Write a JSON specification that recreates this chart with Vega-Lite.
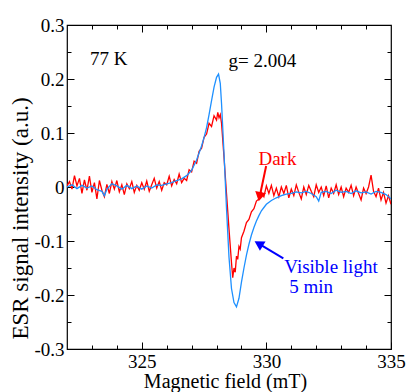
{
  "$schema": "https://vega.github.io/schema/vega-lite/v6.json",
  "width": 324,
  "height": 324,
  "autosize": {"type": "none"},
  "padding": {"left": 67, "top": 25, "right": 15, "bottom": 43},
  "background": "white",
  "config": {
    "view": {"stroke": "black", "strokeWidth": 1.2},
    "font": "Liberation Serif",
    "axis": {
      "domain": false, "grid": false, "tickColor": "black", "tickWidth": 1,
      "labelFont": "'Liberation Serif', 'Times New Roman', serif", "labelFontSize": 19, "labelColor": "black",
      "titleFont": "'Liberation Serif', 'Times New Roman', serif", "titleFontWeight": "normal", "titleColor": "black",
      "labelFlush": false, "labelOverlap": false, "labelBound": false
    }
  },
  "datasets": {
    "red": [
      {"B": 322.0, "I": 0.002}, {"B": 322.1, "I": 0.010}, {"B": 322.2, "I": -0.004}, {"B": 322.3, "I": 0.021},
      {"B": 322.4, "I": 0.002}, {"B": 322.5, "I": 0.016}, {"B": 322.6, "I": -0.012}, {"B": 322.7, "I": 0.013},
      {"B": 322.8, "I": -0.006}, {"B": 322.9, "I": 0.020}, {"B": 323.0, "I": -0.010}, {"B": 323.1, "I": 0.008},
      {"B": 323.2, "I": -0.022}, {"B": 323.3, "I": 0.012}, {"B": 323.4, "I": -0.006}, {"B": 323.5, "I": -0.018},
      {"B": 323.6, "I": 0.005}, {"B": 323.7, "I": -0.012}, {"B": 323.8, "I": 0.010}, {"B": 323.9, "I": -0.004},
      {"B": 324.0, "I": 0.012}, {"B": 324.1, "I": -0.009}, {"B": 324.2, "I": 0.004}, {"B": 324.3, "I": -0.014},
      {"B": 324.4, "I": 0.006}, {"B": 324.5, "I": -0.003}, {"B": 324.6, "I": 0.010}, {"B": 324.7, "I": -0.010},
      {"B": 324.8, "I": 0.003}, {"B": 324.9, "I": -0.006}, {"B": 325.0, "I": 0.008}, {"B": 325.1, "I": -0.004},
      {"B": 325.2, "I": 0.011}, {"B": 325.3, "I": -0.008}, {"B": 325.4, "I": 0.004}, {"B": 325.5, "I": 0.016},
      {"B": 325.6, "I": -0.002}, {"B": 325.7, "I": 0.010}, {"B": 325.8, "I": -0.006}, {"B": 325.9, "I": 0.008},
      {"B": 326.0, "I": 0.004}, {"B": 326.1, "I": 0.020}, {"B": 326.2, "I": 0.002}, {"B": 326.3, "I": 0.014},
      {"B": 326.4, "I": 0.006}, {"B": 326.5, "I": 0.024}, {"B": 326.6, "I": 0.008}, {"B": 326.7, "I": 0.016},
      {"B": 326.8, "I": 0.012}, {"B": 326.9, "I": 0.032}, {"B": 327.0, "I": 0.028}, {"B": 327.1, "I": 0.048},
      {"B": 327.2, "I": 0.044}, {"B": 327.3, "I": 0.066}, {"B": 327.4, "I": 0.072}, {"B": 327.5, "I": 0.092},
      {"B": 327.6, "I": 0.098}, {"B": 327.7, "I": 0.118}, {"B": 327.8, "I": 0.112}, {"B": 327.9, "I": 0.132},
      {"B": 328.0, "I": 0.124}, {"B": 328.05, "I": 0.138}, {"B": 328.1, "I": 0.128}, {"B": 328.15, "I": 0.134},
      {"B": 328.2, "I": 0.118}, {"B": 328.3, "I": 0.055}, {"B": 328.4, "I": -0.012}, {"B": 328.5, "I": -0.078},
      {"B": 328.6, "I": -0.140}, {"B": 328.65, "I": -0.168}, {"B": 328.7, "I": -0.150}, {"B": 328.75, "I": -0.158},
      {"B": 328.8, "I": -0.128}, {"B": 328.85, "I": -0.134}, {"B": 328.9, "I": -0.110}, {"B": 328.95, "I": -0.115},
      {"B": 329.0, "I": -0.094}, {"B": 329.1, "I": -0.082}, {"B": 329.2, "I": -0.066}, {"B": 329.3, "I": -0.060},
      {"B": 329.4, "I": -0.046}, {"B": 329.5, "I": -0.040}, {"B": 329.6, "I": -0.026}, {"B": 329.7, "I": -0.022},
      {"B": 329.8, "I": -0.010}, {"B": 329.9, "I": -0.018}, {"B": 330.0, "I": 0.002}, {"B": 330.1, "I": -0.012},
      {"B": 330.2, "I": 0.003}, {"B": 330.3, "I": -0.016}, {"B": 330.4, "I": -0.002}, {"B": 330.5, "I": -0.018},
      {"B": 330.6, "I": 0.000}, {"B": 330.7, "I": -0.012}, {"B": 330.8, "I": 0.003}, {"B": 330.9, "I": -0.020},
      {"B": 331.0, "I": -0.004}, {"B": 331.1, "I": -0.016}, {"B": 331.2, "I": 0.004}, {"B": 331.3, "I": -0.010},
      {"B": 331.4, "I": -0.022}, {"B": 331.5, "I": 0.000}, {"B": 331.6, "I": -0.014}, {"B": 331.7, "I": 0.003},
      {"B": 331.8, "I": -0.008}, {"B": 331.9, "I": -0.018}, {"B": 332.0, "I": 0.004}, {"B": 332.1, "I": -0.010},
      {"B": 332.2, "I": 0.000}, {"B": 332.3, "I": -0.016}, {"B": 332.4, "I": 0.002}, {"B": 332.5, "I": -0.020},
      {"B": 332.6, "I": -0.002}, {"B": 332.7, "I": -0.012}, {"B": 332.8, "I": 0.004}, {"B": 332.9, "I": -0.014},
      {"B": 333.0, "I": 0.000}, {"B": 333.1, "I": -0.018}, {"B": 333.2, "I": -0.002}, {"B": 333.3, "I": -0.010},
      {"B": 333.4, "I": 0.003}, {"B": 333.5, "I": -0.016}, {"B": 333.6, "I": 0.000}, {"B": 333.7, "I": -0.012},
      {"B": 333.8, "I": -0.024}, {"B": 333.9, "I": -0.002}, {"B": 334.0, "I": -0.012}, {"B": 334.1, "I": 0.000},
      {"B": 334.2, "I": 0.022}, {"B": 334.3, "I": -0.008}, {"B": 334.4, "I": -0.018}, {"B": 334.5, "I": -0.002},
      {"B": 334.6, "I": -0.024}, {"B": 334.7, "I": -0.010}, {"B": 334.8, "I": -0.030}, {"B": 334.9, "I": -0.016},
      {"B": 335.0, "I": -0.032}
    ],
    "blue": [
      {"B": 322.0, "I": 0.000}, {"B": 322.2, "I": 0.004}, {"B": 322.4, "I": -0.003}, {"B": 322.6, "I": 0.003},
      {"B": 322.8, "I": -0.002}, {"B": 323.0, "I": 0.002}, {"B": 323.2, "I": -0.005}, {"B": 323.4, "I": -0.008},
      {"B": 323.5, "I": -0.016}, {"B": 323.6, "I": -0.004}, {"B": 323.8, "I": 0.006}, {"B": 324.0, "I": 0.002},
      {"B": 324.2, "I": -0.004}, {"B": 324.4, "I": 0.003}, {"B": 324.6, "I": -0.003}, {"B": 324.8, "I": 0.002},
      {"B": 325.0, "I": -0.004}, {"B": 325.2, "I": 0.002}, {"B": 325.4, "I": -0.002}, {"B": 325.6, "I": 0.004},
      {"B": 325.8, "I": 0.003}, {"B": 326.0, "I": 0.006}, {"B": 326.2, "I": 0.008}, {"B": 326.4, "I": 0.012},
      {"B": 326.6, "I": 0.015}, {"B": 326.8, "I": 0.021}, {"B": 327.0, "I": 0.031}, {"B": 327.2, "I": 0.050},
      {"B": 327.4, "I": 0.076}, {"B": 327.5, "I": 0.092}, {"B": 327.6, "I": 0.110}, {"B": 327.7, "I": 0.134},
      {"B": 327.8, "I": 0.160}, {"B": 327.9, "I": 0.185}, {"B": 328.0, "I": 0.203}, {"B": 328.08, "I": 0.209},
      {"B": 328.15, "I": 0.192}, {"B": 328.2, "I": 0.155}, {"B": 328.3, "I": 0.062}, {"B": 328.4, "I": -0.040},
      {"B": 328.5, "I": -0.130}, {"B": 328.6, "I": -0.188}, {"B": 328.7, "I": -0.214}, {"B": 328.8, "I": -0.222},
      {"B": 328.9, "I": -0.206}, {"B": 329.0, "I": -0.176}, {"B": 329.1, "I": -0.150}, {"B": 329.2, "I": -0.126},
      {"B": 329.3, "I": -0.106}, {"B": 329.4, "I": -0.089}, {"B": 329.5, "I": -0.075}, {"B": 329.6, "I": -0.063},
      {"B": 329.7, "I": -0.053}, {"B": 329.8, "I": -0.044}, {"B": 329.9, "I": -0.038}, {"B": 330.0, "I": -0.032},
      {"B": 330.2, "I": -0.025}, {"B": 330.4, "I": -0.020}, {"B": 330.6, "I": -0.016}, {"B": 330.8, "I": -0.013},
      {"B": 331.0, "I": -0.012}, {"B": 331.2, "I": -0.009}, {"B": 331.4, "I": -0.011}, {"B": 331.6, "I": -0.008},
      {"B": 331.8, "I": -0.012}, {"B": 332.0, "I": -0.018}, {"B": 332.1, "I": -0.026}, {"B": 332.2, "I": -0.010},
      {"B": 332.4, "I": -0.008}, {"B": 332.6, "I": -0.012}, {"B": 332.8, "I": -0.006}, {"B": 333.0, "I": -0.010},
      {"B": 333.2, "I": -0.008}, {"B": 333.4, "I": -0.012}, {"B": 333.6, "I": -0.007}, {"B": 333.8, "I": -0.011},
      {"B": 334.0, "I": -0.009}, {"B": 334.2, "I": -0.013}, {"B": 334.4, "I": -0.008}, {"B": 334.6, "I": -0.010},
      {"B": 334.8, "I": -0.014}, {"B": 335.0, "I": -0.022}
    ],
    "arrows": [
      {"who": "Dark", "B": 329.99, "I": 0.039, "B2": 329.73, "I2": -0.018},
      {"who": "Visible", "B": 330.68, "I": -0.132, "B2": 329.69, "I2": -0.105}
    ],
    "labels": [
      {"who": "none", "B": 322.92, "I": 0.226, "text": "77 K"},
      {"who": "none", "B": 328.48, "I": 0.223, "text": "g= 2.004"},
      {"who": "Dark", "B": 329.68, "I": 0.041, "text": "Dark"},
      {"who": "Visible", "B": 330.72, "I": -0.159, "text": "Visible light"},
      {"who": "Visible", "B": 330.92, "I": -0.197, "text": "5 min"}
    ]
  },
  "resolve": {"axis": {"x": "independent", "y": "independent"}},
  "layer": [
    {
      "data": {"name": "red"},
      "mark": {"type": "line", "color": "#ff0000", "strokeWidth": 1.3, "clip": true},
      "encoding": {
        "x": {"field": "B", "type": "quantitative", "scale": {"domain": [322, 335], "nice": false, "zero": false},
          "axis": {"orient": "bottom", "values": [325, 330, 335], "tickSize": -7, "labelPadding": 10,
            "title": "Magnetic field (mT)", "titleFontSize": 20, "titleX": 158, "titleY": 38, "titleBaseline": "alphabetic"}},
        "y": {"field": "I", "type": "quantitative", "scale": {"domain": [-0.3, 0.3], "nice": false, "zero": false},
          "axis": {"orient": "left", "values": [-0.3, -0.2, -0.1, 0, 0.1, 0.2, 0.3], "tickSize": -7, "labelPadding": 10,
            "labelExpr": "datum.value < -0.001 ? '-' + format(-datum.value, '.1~f') : format(abs(datum.value), '.1~f')",
            "title": "ESR signal intensity (a.u.)", "titleFontSize": 23, "titleX": -40, "titleY": 193, "titleBaseline": "alphabetic", "titleAngle": -90}}
      }
    },
    {
      "data": {"name": "blue"},
      "mark": {"type": "line", "color": "#1e90ff", "strokeWidth": 1.3, "clip": true},
      "encoding": {
        "x": {"field": "B", "type": "quantitative", "scale": {"domain": [322, 335], "nice": false, "zero": false},
          "axis": {"orient": "bottom", "values": [323, 324, 326, 327, 328, 329, 331, 332, 333, 334], "tickSize": -4, "labels": false, "title": null}},
        "y": {"field": "I", "type": "quantitative", "scale": {"domain": [-0.3, 0.3], "nice": false, "zero": false},
          "axis": {"orient": "left", "values": [-0.25, -0.15, -0.05, 0.05, 0.15, 0.25], "tickSize": -4, "labels": false, "title": null}}
      }
    },
    {
      "data": {"name": "arrows"},
      "transform": [{"filter": "datum.who === 'Dark'"}],
      "mark": {"type": "rule", "color": "#ff0000", "strokeWidth": 2},
      "encoding": {
        "x": {"field": "B", "type": "quantitative", "scale": {"domain": [322, 335], "nice": false, "zero": false},
          "axis": {"orient": "top", "values": [325, 330], "tickSize": -7, "labels": false, "title": null}},
        "y": {"field": "I", "type": "quantitative", "scale": {"domain": [-0.3, 0.3], "nice": false, "zero": false},
          "axis": {"orient": "right", "values": [-0.2, -0.1, 0, 0.1, 0.2], "tickSize": -7, "labels": false, "title": null}},
        "x2": {"field": "B2"},
        "y2": {"field": "I2"}
      }
    },
    {
      "data": {"name": "arrows"},
      "transform": [{"filter": "datum.who === 'Visible'"}],
      "mark": {"type": "rule", "color": "#0000ff", "strokeWidth": 2},
      "encoding": {
        "x": {"field": "B", "type": "quantitative", "scale": {"domain": [322, 335], "nice": false, "zero": false},
          "axis": {"orient": "top", "values": [323, 324, 326, 327, 328, 329, 331, 332, 333, 334], "tickSize": -4, "labels": false, "title": null}},
        "y": {"field": "I", "type": "quantitative", "scale": {"domain": [-0.3, 0.3], "nice": false, "zero": false},
          "axis": {"orient": "right", "values": [-0.25, -0.15, -0.05, 0.05, 0.15, 0.25], "tickSize": -4, "labels": false, "title": null}},
        "x2": {"field": "B2"},
        "y2": {"field": "I2"}
      }
    },
    {
      "data": {"name": "arrows"},
      "transform": [{"filter": "datum.who === 'Dark'"}],
      "mark": {"type": "point", "shape": "triangle-up", "filled": true, "size": 120, "color": "#ff0000", "opacity": 1, "angle": 191.7},
      "encoding": {
        "x": {"field": "B2", "type": "quantitative", "scale": {"domain": [322, 335], "nice": false, "zero": false}, "axis": null},
        "y": {"field": "I2", "type": "quantitative", "scale": {"domain": [-0.3, 0.3], "nice": false, "zero": false}, "axis": null}
      }
    },
    {
      "data": {"name": "arrows"},
      "transform": [{"filter": "datum.who === 'Visible'"}],
      "mark": {"type": "point", "shape": "triangle-up", "filled": true, "size": 120, "color": "#0000ff", "opacity": 1, "angle": 300.8},
      "encoding": {
        "x": {"field": "B2", "type": "quantitative", "scale": {"domain": [322, 335], "nice": false, "zero": false}, "axis": null},
        "y": {"field": "I2", "type": "quantitative", "scale": {"domain": [-0.3, 0.3], "nice": false, "zero": false}, "axis": null}
      }
    },
    {
      "data": {"name": "labels"},
      "transform": [{"filter": "datum.who === 'none'"}],
      "mark": {"type": "text", "align": "left", "baseline": "alphabetic", "font": "'Liberation Serif', 'Times New Roman', serif", "fontSize": 19, "color": "black"},
      "encoding": {
        "x": {"field": "B", "type": "quantitative", "scale": {"domain": [322, 335], "nice": false, "zero": false}, "axis": null},
        "y": {"field": "I", "type": "quantitative", "scale": {"domain": [-0.3, 0.3], "nice": false, "zero": false}, "axis": null},
        "text": {"field": "text"}
      }
    },
    {
      "data": {"name": "labels"},
      "transform": [{"filter": "datum.who === 'Dark'"}],
      "mark": {"type": "text", "align": "left", "baseline": "alphabetic", "font": "'Liberation Serif', 'Times New Roman', serif", "fontSize": 19, "color": "#ff0000"},
      "encoding": {
        "x": {"field": "B", "type": "quantitative", "scale": {"domain": [322, 335], "nice": false, "zero": false}, "axis": null},
        "y": {"field": "I", "type": "quantitative", "scale": {"domain": [-0.3, 0.3], "nice": false, "zero": false}, "axis": null},
        "text": {"field": "text"}
      }
    },
    {
      "data": {"name": "labels"},
      "transform": [{"filter": "datum.who === 'Visible'"}],
      "mark": {"type": "text", "align": "left", "baseline": "alphabetic", "font": "'Liberation Serif', 'Times New Roman', serif", "fontSize": 19, "color": "#0000ff"},
      "encoding": {
        "x": {"field": "B", "type": "quantitative", "scale": {"domain": [322, 335], "nice": false, "zero": false}, "axis": null},
        "y": {"field": "I", "type": "quantitative", "scale": {"domain": [-0.3, 0.3], "nice": false, "zero": false}, "axis": null},
        "text": {"field": "text"}
      }
    }
  ]
}
